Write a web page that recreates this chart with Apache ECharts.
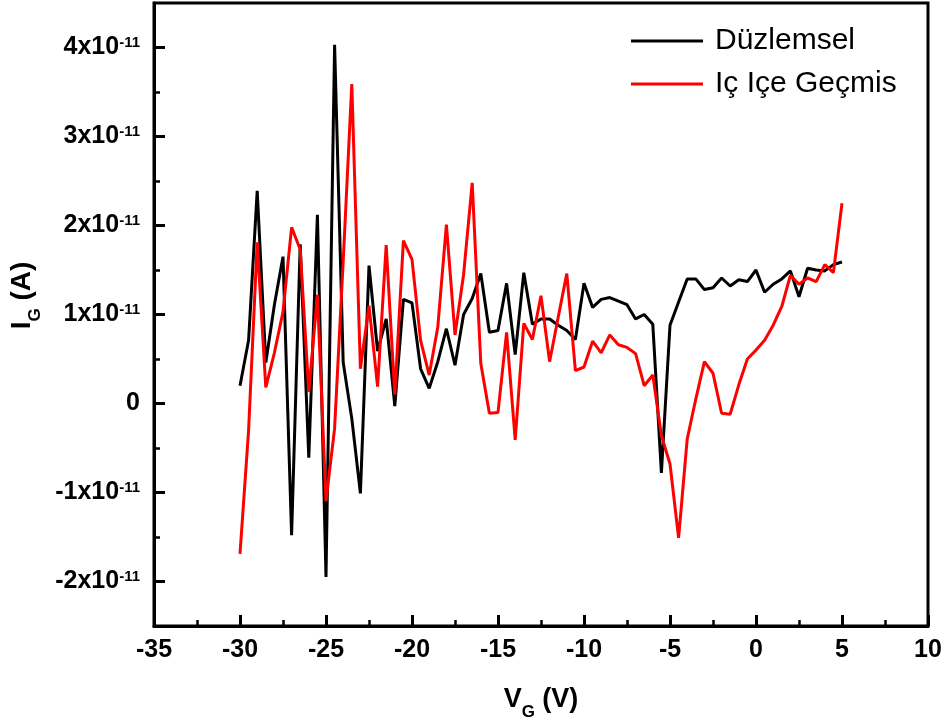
<!DOCTYPE html>
<html>
<head>
<meta charset="utf-8">
<title>I_G vs V_G</title>
<script src="https://cdn.jsdelivr.net/npm/echarts@6/dist/echarts.min.js"></script>
<style>
  html, body { margin: 0; padding: 0; background: #ffffff; }
  #chart { width: 946px; height: 726px; }
</style>
</head>
<body>
<div id="chart"></div>
<script>
// Gate voltage sweep (V)
const gateVoltage = [
  -30, -29.5, -29, -28.5, -28, -27.5, -27, -26.5, -26, -25.5,
  -25, -24.5, -24, -23.5, -23, -22.5, -22, -21.5, -21, -20.5,
  -20, -19.5, -19, -18.5, -18, -17.5, -17, -16.5, -16, -15.5,
  -15, -14.5, -14, -13.5, -13, -12.5, -12, -11.5, -11, -10.5,
  -10, -9.5, -9, -8.5, -8, -7.5, -7, -6.5, -6, -5.5,
  -5, -4.5, -4, -3.5, -3, -2.5, -2, -1.5, -1, -0.5,
  0, 0.5, 1, 1.5, 2, 2.5, 3, 3.5, 4, 4.5, 5
];

// Gate leakage current, in units of 1x10^-11 A
const duzlemsel = [
  0.20, 0.71, 2.39, 0.46, 1.11, 1.65, -1.48, 1.79, -0.61, 2.12,
  -1.95, 4.03, 0.46, -0.17, -1.01, 1.55, 0.59, 0.95, -0.03, 1.17,
  1.13, 0.39, 0.17, 0.47, 0.84, 0.43, 1.00, 1.18, 1.46, 0.80,
  0.82, 1.35, 0.55, 1.47, 0.89, 0.95, 0.95, 0.88, 0.82, 0.72,
  1.35, 1.08, 1.17, 1.19, 1.15, 1.11, 0.95, 1.00, 0.89, -0.78,
  0.88, 1.14, 1.40, 1.40, 1.28, 1.30, 1.41, 1.32, 1.39, 1.37,
  1.50, 1.25, 1.34, 1.40, 1.49, 1.20, 1.52, 1.50, 1.49, 1.56, 1.59
];

const icIceGecmis = [
  -1.69, -0.30, 1.81, 0.18, 0.57, 1.03, 1.98, 1.73, 0.13, 1.22,
  -1.10, -0.28, 1.60, 3.59, 0.39, 1.10, 0.19, 1.78, 0.10, 1.83,
  1.62, 0.71, 0.32, 0.86, 2.01, 0.77, 1.45, 2.48, 0.45, -0.11,
  -0.10, 0.80, -0.41, 0.90, 0.72, 1.21, 0.47, 0.97, 1.46, 0.37,
  0.41, 0.70, 0.57, 0.77, 0.66, 0.63, 0.56, 0.20, 0.32, -0.36,
  -0.68, -1.51, -0.40, 0.05, 0.47, 0.34, -0.11, -0.12, 0.21, 0.50,
  0.60, 0.71, 0.88, 1.09, 1.44, 1.34, 1.41, 1.37, 1.56, 1.47, 2.25
];

const seriesNames = ['Düzlemsel', 'Iç Içe Geçmis'];
const currentExponent = '-11';

// Axis ticks
const xTicks = [-35, -30, -25, -20, -15, -10, -5, 0, 5, 10];
const yMajorTicks = [-2, -1, 0, 1, 2, 3, 4];
const yMinorTicks = [-1.5, -0.5, 0.5, 1.5, 2.5, 3.5];

const FONT = '"Liberation Sans", Arial, Helvetica, sans-serif';

function pairs(xs, ys) {
  return xs.map((x, i) => [x, ys[i]]);
}

const chart = echarts.init(document.getElementById('chart'), null, { renderer: 'canvas' });

const option = {
  backgroundColor: '#ffffff',
  animation: false,
  grid: {
    left: 154,
    right: 18,
    top: 3,
    bottom: 100,
    show: true,
    borderColor: '#000',
    borderWidth: 3,
    backgroundColor: 'transparent'
  },
  legend: {
    orient: 'vertical',
    left: 626,
    top: 21,
    icon: 'rect',
    itemWidth: 72,
    itemHeight: 3,
    itemGap: 13,
    data: [
      { name: seriesNames[0], itemStyle: { color: '#000000' } },
      { name: seriesNames[1], itemStyle: { color: '#ff0000' } }
    ],
    textStyle: {
      fontFamily: FONT,
      fontSize: 30,
      color: '#000',
      padding: [0, 0, 0, 7]
    }
  },
  xAxis: {
    type: 'value',
    min: xTicks[0],
    max: xTicks[xTicks.length - 1],
    interval: 5,
    name: 'V{sub|G} (V)',
    nameLocation: 'middle',
    nameGap: 60,
    nameTextStyle: {
      fontFamily: FONT,
      fontWeight: 'bold',
      fontSize: 27,
      color: '#000',
      rich: {
        sub: { fontFamily: FONT, fontWeight: 'bold', fontSize: 17, verticalAlign: 'bottom', padding: [0, 0, -8, 0] }
      }
    },
    axisLine: { show: true, onZero: false, lineStyle: { color: '#000', width: 3 } },
    axisTick: { show: true, inside: true, length: 11, lineStyle: { color: '#000', width: 3 } },
    minorTick: { show: true, splitNumber: 2, length: 6, lineStyle: { color: '#000', width: 2.5 } },
    splitLine: { show: false },
    axisLabel: {
      margin: 12,
      fontFamily: FONT,
      fontWeight: 'bold',
      fontSize: 25,
      color: '#000',
      formatter: v => String(v)
    }
  },
  yAxis: [
    {
      type: 'value',
      min: -2.5,
      max: 4.5,
      position: 'left',
      name: 'I{sub|G} (A)',
      nameLocation: 'middle',
      nameGap: 106,
      nameRotate: 90,
      nameTextStyle: {
        fontFamily: FONT,
        fontWeight: 'bold',
        fontSize: 28,
        color: '#000',
        padding: [0, 0, 0, 38],
        rich: {
          sub: { fontFamily: FONT, fontWeight: 'bold', fontSize: 17, verticalAlign: 'bottom', padding: [0, 0, -8, 0] }
        }
      },
      axisLine: { show: true, onZero: false, lineStyle: { color: '#000', width: 3 } },
      axisTick: { show: true, inside: true, length: 11, customValues: yMajorTicks, lineStyle: { color: '#000', width: 3 } },
      splitLine: { show: false },
      axisLabel: {
        margin: 14,
        customValues: yMajorTicks,
        fontFamily: FONT,
        fontWeight: 'bold',
        fontSize: 25,
        color: '#000',
        formatter: v => (v === 0 ? '0' : v + 'x10{sup|' + currentExponent + '}'),
        rich: {
          sup: { fontFamily: FONT, fontWeight: 'bold', fontSize: 15, verticalAlign: 'top', padding: [0, 0, 9, 0] }
        }
      }
    },
    {
      // half-step minor ticks on the current axis
      type: 'value',
      min: -2.5,
      max: 4.5,
      position: 'left',
      axisLine: { show: false, onZero: false },
      axisTick: { show: true, inside: true, length: 6, customValues: yMinorTicks, lineStyle: { color: '#000', width: 2.5 } },
      axisLabel: { show: false },
      splitLine: { show: false }
    }
  ],
  series: [
    {
      name: seriesNames[0],
      type: 'line',
      data: pairs(gateVoltage, duzlemsel),
      showSymbol: false,
      symbol: 'none',
      lineStyle: { color: '#000000', width: 3 },
      itemStyle: { color: '#000000' },
      z: 2
    },
    {
      name: seriesNames[1],
      type: 'line',
      data: pairs(gateVoltage, icIceGecmis),
      showSymbol: false,
      symbol: 'none',
      lineStyle: { color: '#ff0000', width: 3 },
      itemStyle: { color: '#ff0000' },
      z: 3
    }
  ]
};

chart.setOption(option);
</script>
</body>
</html>
